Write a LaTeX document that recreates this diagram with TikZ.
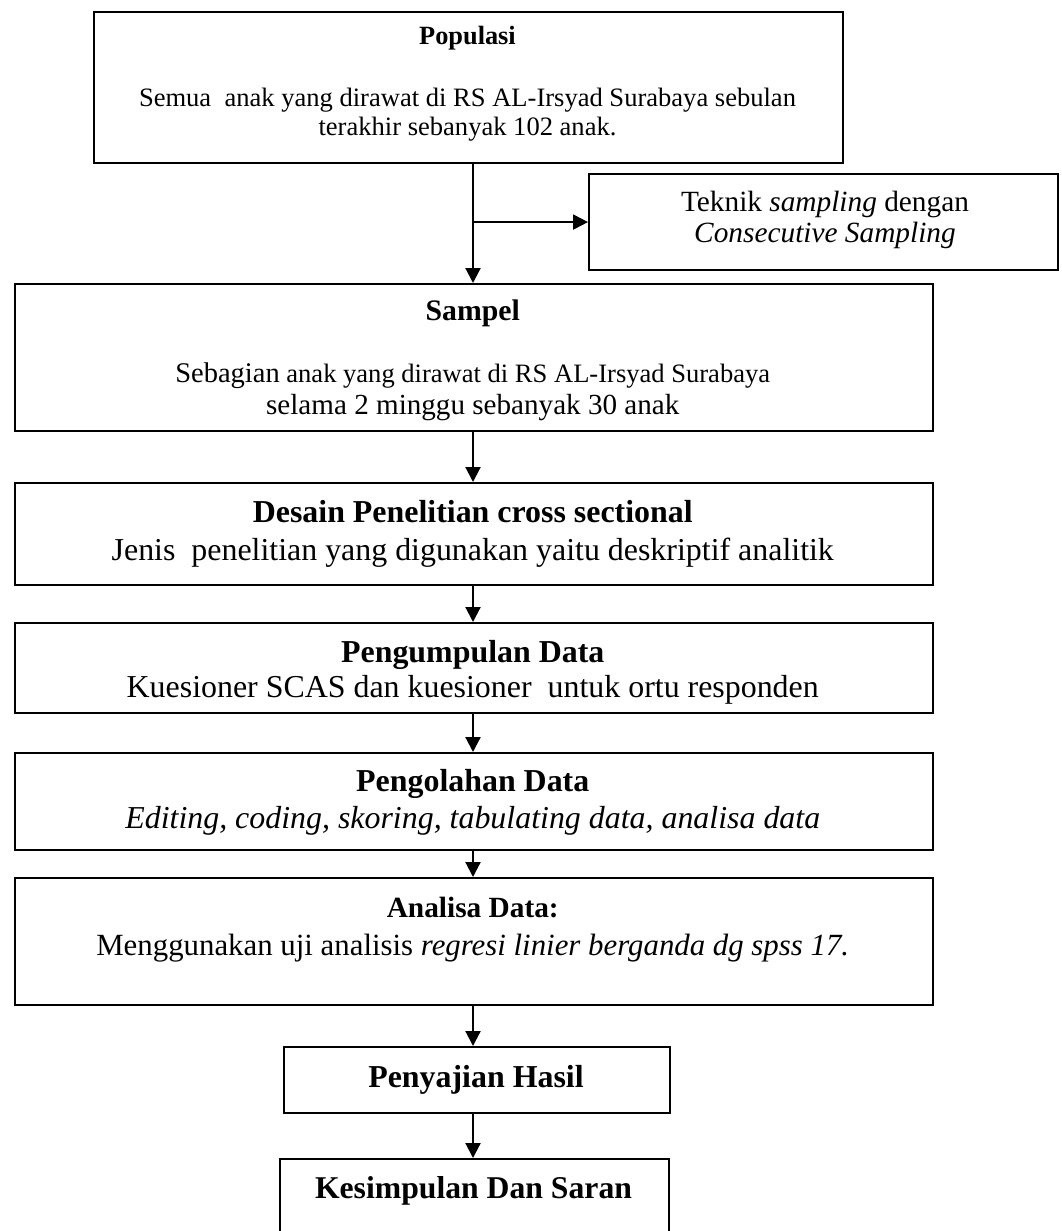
\documentclass[tikz,border=0pt]{standalone}
\usepackage{fontspec}
\setmainfont{Liberation Serif}
\usetikzlibrary{arrows.meta}
\newcommand{\pu}{0.467pt}

\begin{document}
\begin{tikzpicture}[x=\pu, y=-\pu, >={Triangle[length=7pt, width=7pt]},
  box/.style={draw, line width=1pt, inner sep=0pt, anchor=north west},
  hd/.style={anchor=base, inner sep=0pt, font=\bfseries\fontsize{#1}{#1}\selectfont},
  bd/.style={anchor=base, inner sep=0pt, font=\fontsize{#1}{#1}\selectfont},
  arr/.style={->, line width=1pt}]
\useasboundingbox (0,0) rectangle (1061,1231);

% boxes
\foreach \n/\x/\y/\w/\h in {pop/93/11/749/151, tek/588/173/469/96,
    sam/13.5/283/918.5/147, des/13.5/482/918.5/102, kum/13.5/622/918.5/90,
    olah/13.5/752/918.5/97, ana/13.5/877/918.5/127,
    saji/283/1046/386/66, simp/279/1158/389/80}
  \node [box, minimum width=\w*\pu, minimum height=\h*\pu] (\n) at (\x,\y) {};

% texts
\node [hd=12.3] (pop-t) at (467.5,45) {Populasi};
\node [bd=12.4] (pop-1) at (467.5,107) {Semua\ \ anak yang dirawat di RS AL-Irsyad Surabaya sebulan};
\node [bd=12.4] (pop-2) at (467.5,136) {terakhir sebanyak 102 anak.};

\node [bd=13.7] (tek-1) at (825,212) {Teknik \textit{sampling} dengan};
\node [bd=13.7] (tek-2) at (825,243) {\textit{Consecutive Sampling}};

\node [hd=13.9] (sam-t) at (472.75,321) {Sampel};
\node [bd=12.4] (sam-1) at (472.75,382) {{\fontsize{13.3}{13.3}\selectfont Sebagian} anak yang dirawat di RS AL-Irsyad Surabaya};
\node [bd=13.6] (sam-2) at (472.75,414) {selama 2 minggu sebanyak 30 anak};

\node [hd=14.9] (des-t) at (472.75,522) {Desain Penelitian cross sectional};
\node [bd=14.9] (des-1) at (472.75,560) {Jenis\ \ penelitian yang digunakan yaitu deskriptif analitik};

\node [hd=14.9] (kum-t) at (472.75,662) {Pengumpulan Data};
\node [bd=14.9] (kum-1) at (472.75,697) {Kuesioner SCAS dan kuesioner\ \ untuk ortu responden};

\node [hd=14.9] (olah-t) at (472.75,791) {Pengolahan Data};
\node [bd=14.9] (olah-1) at (472.75,828) {\textit{Editing, coding, skoring, tabulating data, analisa data}};

\node [hd=13.7] (ana-t) at (472.75,917) {Analisa Data:};
\node [bd=14.4] (ana-1) at (472.75,955) {Menggunakan uji analisis \textit{regresi linier berganda dg spss 17.}};

\node [hd=14.9] (saji-t) at (476,1087) {Penyajian Hasil};
\node [hd=14.8] (simp-t) at (473.5,1198) {Kesimpulan Dan Saran};

% arrows
\coordinate (spine) at (473,0);
\draw [arr] (spine |- pop.south) -- (spine |- sam.north);
\draw [arr] (spine |- tek.west) -- (tek.west);
\foreach \a/\b in {sam/des, des/kum, kum/olah, olah/ana, ana/saji, saji/simp}
  \draw [arr] (spine |- \a.south) -- (spine |- \b.north);
\end{tikzpicture}
\end{document}
